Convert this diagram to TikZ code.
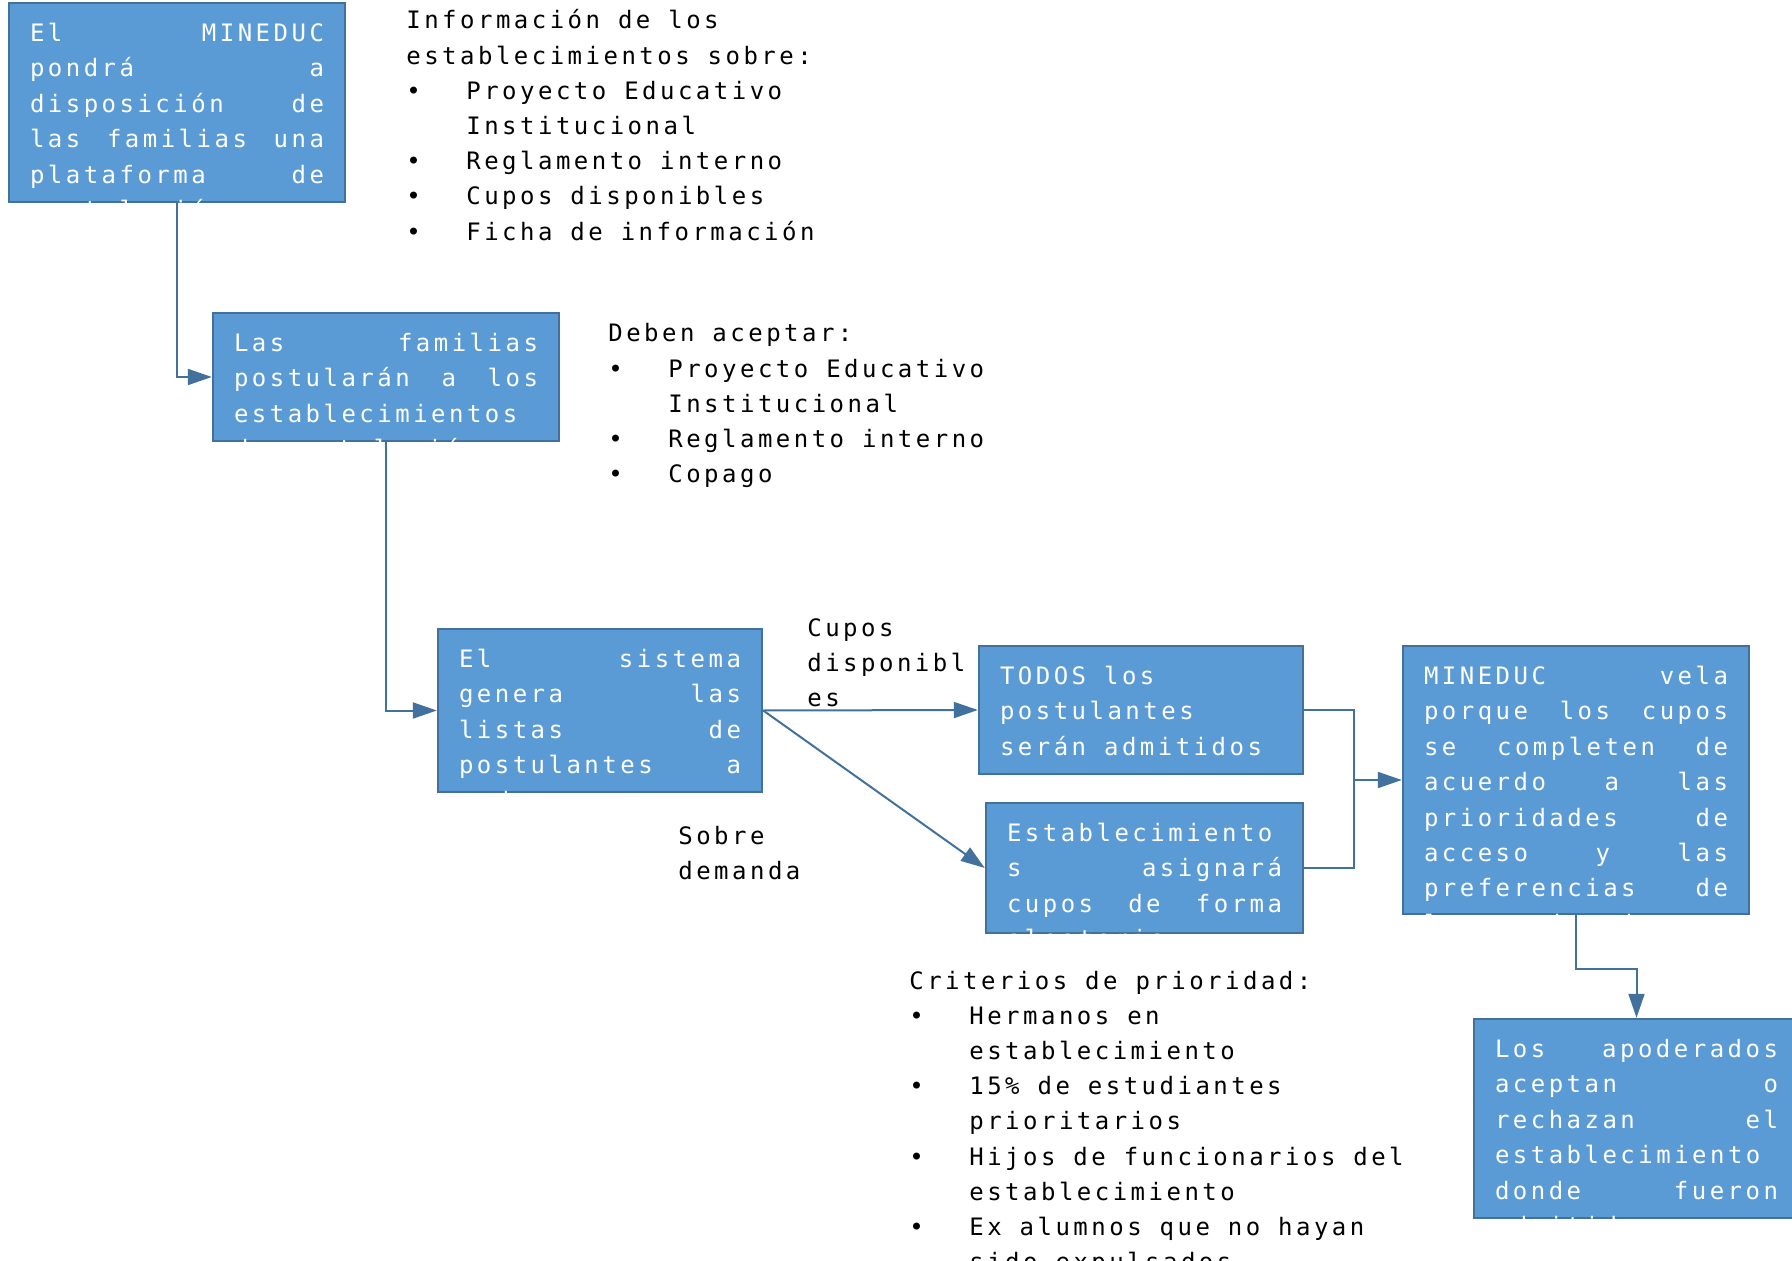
\documentclass[tikz,border=0pt]{standalone}
\usepackage{fontspec}
\setmonofont{DejaVu Sans Mono}[LetterSpace=14.5]
\usetikzlibrary{arrows.meta}

\definecolor{boxfill}{HTML}{5B9BD5}
\definecolor{boxline}{HTML}{41719C}

\newcommand{\boxlines}[3]{\parbox[c][#2][t]{#1}{\strut#3}}
\newcommand{\itm}{\makebox[30pt][l]{\textbullet}}
\newcommand{\hang}{\hspace*{30pt}}

\begin{document}
\begin{tikzpicture}[x=0.5pt,y=-0.5pt,
  every node/.style={inner sep=0pt},
  caja/.style={draw=boxline,line width=1.2pt,fill=boxfill,text=white,rectangle,
    font=\ttfamily\fontsize{12pt}{17.7pt}\selectfont},
  nota/.style={anchor=base west,text=black,font=\ttfamily\fontsize{12pt}{17.6pt}\selectfont},
  conn/.style={draw=boxline,line width=1pt},
  flow/.style={conn,-{Triangle[length=12pt,width=8pt]}}]

\useasboundingbox (0,0) rectangle (1792,1261);

\node[caja,minimum width=168pt,minimum height=99.5pt] (v1) at (177,102.5) {\boxlines{147pt}{85.8pt}{El\hfill MINEDUC\\pondrá\hfill a\\disposición\hfill de\\las\hfill familias\hfill una\\plataforma\hfill de\\postulación}};
\node[caja,minimum width=173pt,minimum height=64pt] (v2) at (386,377) {\boxlines{152pt}{50.3pt}{Las\hfill familias\\postularán\hfill a\hfill los\\establecimientos\\de postulación}};
\node[caja,minimum width=162pt,minimum height=81.5pt] (v3) at (600,710.5) {\boxlines{141pt}{67.8pt}{El\hfill sistema\\genera\hfill las\\listas\hfill de\\postulantes\hfill a\\cada}};
\node[caja,minimum width=162pt,minimum height=64pt] (v4) at (1141,710) {\boxlines{141pt}{50.3pt}{TODOS los\\postulantes\\serán admitidos}};
\node[caja,minimum width=158.5pt,minimum height=65pt] (v5) at (1144.5,868) {\boxlines{137.5pt}{51.3pt}{Establecimiento\\s\hfill asignará\\cupos\hfill de\hfill forma\\aleatoria}};
\node[caja,minimum width=173pt,minimum height=134pt] (v6) at (1576,780) {\boxlines{152pt}{120.3pt}{MINEDUC\hfill vela\\porque\hfill los\hfill cupos\\se\hfill completen\hfill de\\acuerdo\hfill a\hfill las\\prioridades\hfill de\\acceso\hfill y\hfill las\\preferencias\hfill de\\los apoderados}};
\node[caja,minimum width=162.5pt,minimum height=99.5pt] (v7) at (1636.5,1118.5) {\boxlines{141.5pt}{85.8pt}{Los\hfill apoderados\\aceptan\hfill o\\rechazan\hfill el\\establecimiento\\donde\hfill fueron\\admitidos}};

\node[nota] (v8) at (406,29) {\parbox[t]{230pt}{Información de los\\establecimientos sobre:\\\itm Proyecto Educativo\\\hang Institucional\\\itm Reglamento interno\\\itm Cupos disponibles\\\itm Ficha de información}};
\node[nota] (v9) at (608,342) {\parbox[t]{230pt}{Deben aceptar:\\\itm Proyecto Educativo\\\hang Institucional\\\itm Reglamento interno\\\itm Copago}};
\node[nota] (v10) at (807,636) {\parbox[t]{90pt}{Cupos\\disponibl\\es}};
\node[nota] (v11) at (678,844) {\parbox[t]{90pt}{Sobre\\demanda}};
\node[nota] (v13) at (909,989) {\parbox[t]{270pt}{Criterios de prioridad:\\\itm Hermanos en\\\hang establecimiento\\\itm 15\% de estudiantes\\\hang prioritarios\\\itm Hijos de funcionarios del\\\hang establecimiento\\\itm Ex alumnos que no hayan\\\hang sido expulsados}};

\coordinate (v12) at (1354,780);

\draw[flow] (v1.south) |- (v2.west);
\draw[flow] (v2.south) |- (v3.west);
\draw[flow] (v3.east) -- (v4.west);
\draw[flow] (v3.east) -- (v5.west);
\draw[conn] (v4.east) -| (v12);
\draw[conn] (v5.east) -| (v12);
\draw[flow] (v12) -- (v6.west);
\draw[flow] (v6.south) -- ++(0,54) -| (v7.north);
\end{tikzpicture}
\end{document}
